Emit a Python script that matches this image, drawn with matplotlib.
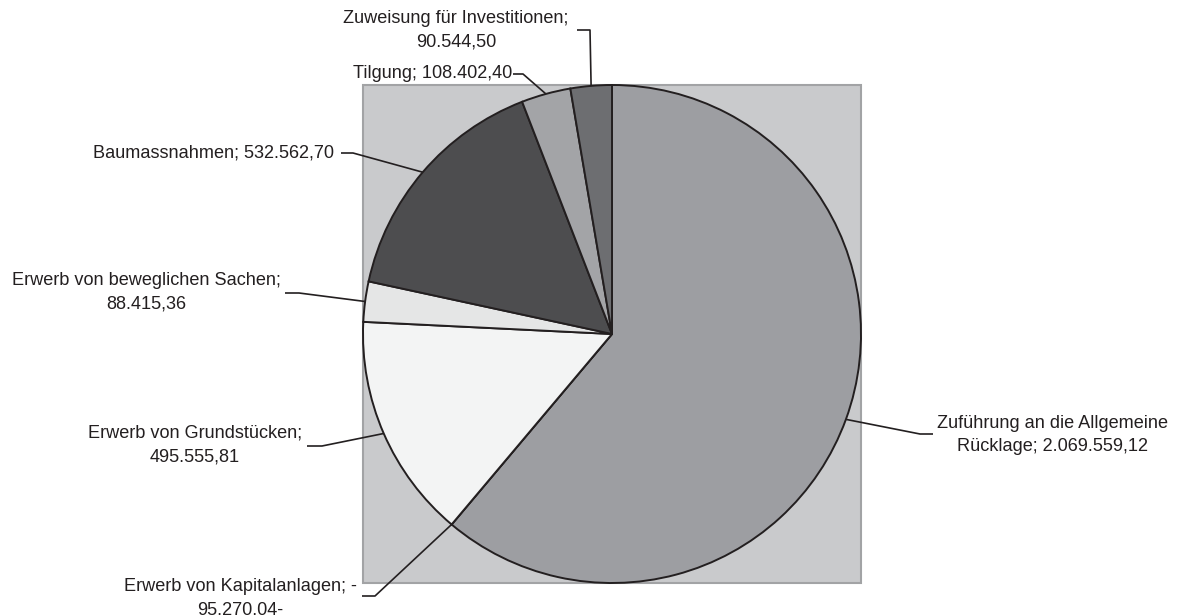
import matplotlib.pyplot as plt
import numpy as np
from matplotlib.patches import Rectangle

# data (Kapitalanlagen is negative -> drawn as empty slice)
labels = ["Zuführung an die Allgemeine\nRücklage; 2.069.559,12",
          "Erwerb von Kapitalanlagen; -\n95.270,04-",
          "Erwerb von Grundstücken;\n495.555,81",
          "Erwerb von beweglichen Sachen;\n88.415,36",
          "Baumassnahmen; 532.562,70",
          "Tilgung; 108.402,40",
          "Zuweisung für Investitionen;\n90.544,50"]
values = [2069559.12, -95270.04, 495555.81, 88415.36, 532562.70, 108402.40, 90544.50]
colors = ["#9d9ea2", "#c9cacc", "#f3f4f4", "#e5e6e6", "#4d4d4f", "#a3a4a7", "#6d6e71"]

# label layout in pixels: text centre, leader end x, elbow x, leader y
text_pos = [(1053, 435), (240, 598), (195, 445), (146, 292), (214, 153), (433, 74), (456, 30)]
leader = [(933, 920, 434), (362, 375, 596), (307, 322, 446), (285, 299, 293),
          (341, 353, 153), (513, 523, 74), (577, 590, 30)]

W, H = 1183, 615
cx, cy, r = 612, 334, 249

fig = plt.figure(figsize=(W / 100, H / 100), dpi=100)
ax = fig.add_axes([0, 0, 1, 1])
ax.set_xlim(0, W)
ax.set_ylim(0, H)
ax.axis("off")

ax.add_patch(Rectangle((cx - r, H - cy - r), 2 * r, 2 * r, facecolor="#c9cacc",
                       edgecolor="#a2a3a5", lw=1.5, zorder=0))

sizes = [max(v, 0) for v in values]
wedges, _ = ax.pie(sizes, colors=colors, startangle=90, counterclock=False,
                   center=(cx, H - cy), radius=r,
                   wedgeprops=dict(edgecolor="#231f20", linewidth=1.4))
ax.set_xlim(0, W)
ax.set_ylim(0, H)
ax.set_aspect("equal")

for w, lab, (tx, ty), (x0, x1, ly) in zip(wedges, labels, text_pos, leader):
    mid = np.deg2rad((w.theta1 + w.theta2) / 2)
    ax_ = cx + r * np.cos(mid)
    ay_ = (H - cy) + r * np.sin(mid)
    ax.plot([x0, x1, ax_], [H - ly, H - ly, ay_], color="#231f20", lw=1.2,
            solid_capstyle="butt", zorder=5)
    ax.text(tx, H - ty, lab, ha="center", va="center", multialignment="center",
            fontsize=13.1, family="Liberation Sans", color="#231f20",
            linespacing=1.5)

fig.savefig("out.png", dpi=100)
